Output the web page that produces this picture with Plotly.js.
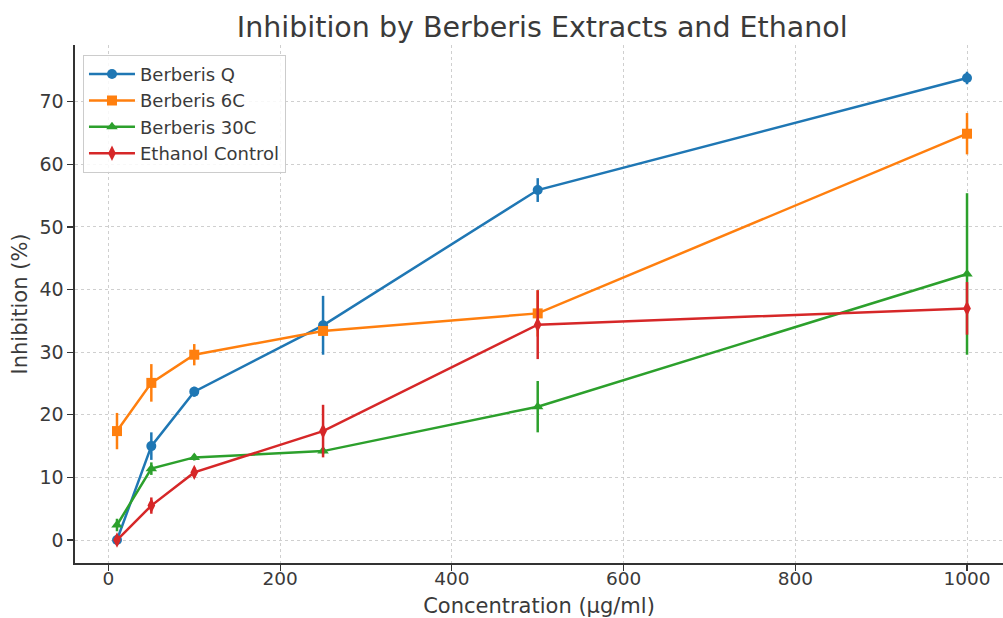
<!DOCTYPE html>
<html>
<head>
<meta charset="utf-8">
<script src="https://cdn.plot.ly/plotly-3.0.1.min.js"></script>
<style>html,body{margin:0;padding:0;background:#fff;}#chart{width:1003px;height:618px;}</style>
</head>
<body>
<div id="chart"></div>
<script>
const concentrations = [10, 50, 100, 250, 500, 1000];

const seriesNames = ["Berberis Q", "Berberis 6C", "Berberis 30C", "Ethanol Control"];

const berberisQ = [0.0, 15.0, 23.7, 34.3, 55.9, 73.8];
const berberisQErr = [0.4, 2.2, 0.8, 4.7, 1.9, 1.0];

const berberis6C = [17.4, 25.1, 29.6, 33.4, 36.2, 64.9];
const berberis6CErr = [2.9, 3.0, 1.7, 0.5, 3.7, 3.3];

const berberis30C = [2.4, 11.4, 13.2, 14.2, 21.3, 42.5];
const berberis30CErr = [1.0, 1.0, 0.5, 0.5, 4.1, 12.9];

const ethanolControl = [0.0, 5.5, 10.8, 17.4, 34.4, 37.0];
const ethanolControlErr = [0.6, 1.3, 0.8, 4.2, 5.5, 4.2];

const xTicks = [0, 200, 400, 600, 800, 1000];
const yTicks = [0, 10, 20, 30, 40, 50, 60, 70];

const colors = ["#1f77b4", "#ff7f0e", "#2ca02c", "#d62728"];
const symbols = ["circle", "square", "triangle-up", "diamond-tall"];
const values = [berberisQ, berberis6C, berberis30C, ethanolControl];
const errors = [berberisQErr, berberis6CErr, berberis30CErr, ethanolControlErr];

const traces = seriesNames.map((name, i) => ({
  type: "scatter",
  mode: "lines+markers",
  name: name,
  x: concentrations,
  y: values[i],
  line: {color: colors[i], width: 2.5},
  marker: {color: colors[i], symbol: symbols[i], size: i === 3 ? 11 : 10},
  error_y: {type: "data", array: errors[i], visible: true, color: colors[i], thickness: 2.5, width: 0}
}));

const fontFam = "DejaVu Sans, sans-serif";
const txt = "#3a3a3a";

const layout = {
  width: 1003,
  height: 618,
  margin: {l: 75, r: 0, t: 45, b: 55},
  paper_bgcolor: "#ffffff",
  plot_bgcolor: "#ffffff",
  font: {family: fontFam, color: txt},
  title: {
    text: "Inhibition by Berberis Extracts and Ethanol",
    font: {family: fontFam, size: 28.5, color: txt},
    x: 0.5035, xref: "paper", xanchor: "center",
    y: 0.956, yref: "container", yanchor: "middle"
  },
  xaxis: {
    range: [-38.9, 1041.9],
    tickvals: xTicks,
    ticks: "outside", ticklen: 6, tickcolor: "#333333", tickwidth: 1.2,
    ticklabelstandoff: -8,
    tickfont: {family: fontFam, size: 18.5, color: txt},
    showgrid: true, gridcolor: "#cfcfcf", griddash: "3px,3px", gridwidth: 1,
    zeroline: false,
    showline: true, linecolor: "#333333", linewidth: 1.6,
    title: {text: "Concentration (µg/ml)", font: {family: fontFam, size: 21, color: txt}, standoff: 10}
  },
  yaxis: {
    range: [-3.67, 79.07],
    tickvals: yTicks,
    ticks: "outside", ticklen: 6, tickcolor: "#333333", tickwidth: 1.2,
    tickfont: {family: fontFam, size: 19, color: txt},
    showgrid: true, gridcolor: "#cfcfcf", griddash: "3px,3px", gridwidth: 1,
    zeroline: false,
    showline: true, linecolor: "#333333", linewidth: 1.6,
    title: {text: "Inhibition (%)", font: {family: fontFam, size: 21, color: txt}, standoff: 6}
  },
  legend: {
    x: 0.0086, y: 0.981, xanchor: "left", yanchor: "top",
    bgcolor: "rgba(255,255,255,0.85)", bordercolor: "#cccccc", borderwidth: 1,
    font: {family: fontFam, size: 18, color: txt},
    itemwidth: 46,
    tracegroupgap: 0
  },
  showlegend: true
};

Plotly.newPlot("chart", traces, layout, {displayModeBar: false, staticPlot: true});
</script>
</body>
</html>
